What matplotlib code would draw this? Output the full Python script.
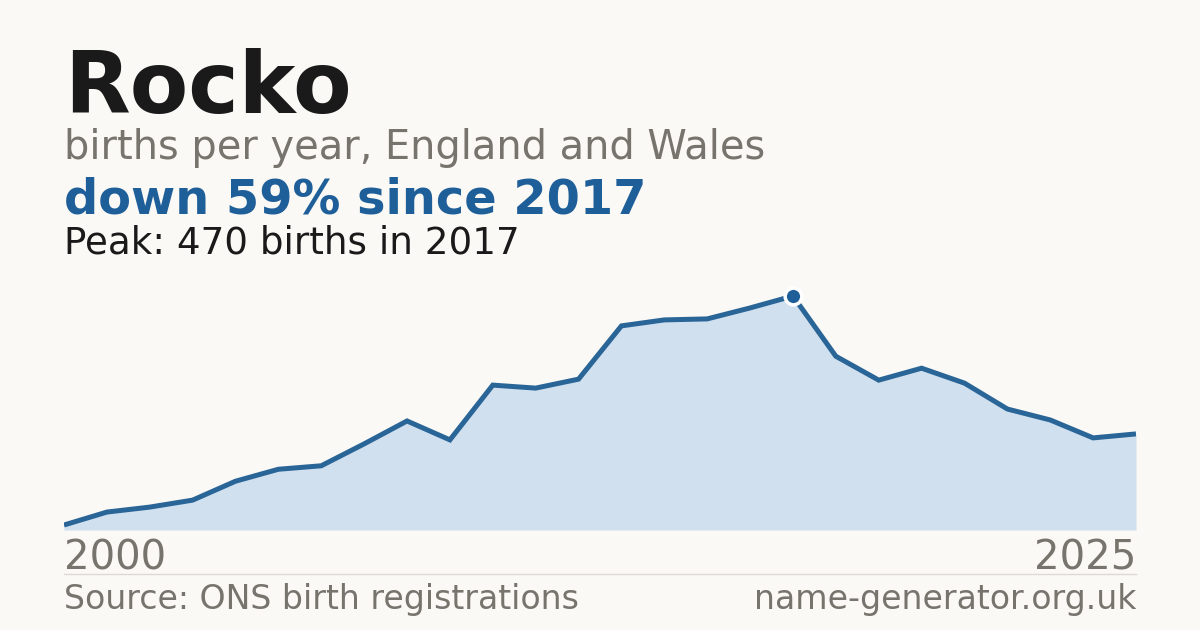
import matplotlib
matplotlib.use("Agg")
import matplotlib.pyplot as plt

years = list(range(2000, 2026))
births = [10, 36, 46, 60, 98, 122, 129, 173, 219, 181, 291, 285, 303, 410,
          422, 424, 446, 470, 349, 301, 325, 295, 243, 221, 185, 193]
peak_year = 2017
peak_value = 470

BG = "#faf9f5"
BLUE = "#1f5f99"
LINE = "#2a6598"
FILL = "#d0e0ef"
GRAY = "#77736d"
DARK = "#1a1a1a"

W, H = 1200, 630
fig = plt.figure(figsize=(W / 100, H / 100), dpi=100, facecolor=BG)

def fy(px):
    return 1 - px / H

# axes: x 64..1136, bottom at 530, scale ~0.498 px per birth
top_val = 500
scale = 234 / 470
ax_top_px = 530 - top_val * scale
ax = fig.add_axes([64 / W, fy(530), 1072 / W, (530 - ax_top_px) / H])
ax.set_facecolor("none")
ax.fill_between(years, births, 0, color=FILL, linewidth=0)
ax.plot(years, births, color=LINE, linewidth=3.6, solid_capstyle="butt", solid_joinstyle="miter")
ax.plot([peak_year], [peak_value], marker="o", markersize=12, markerfacecolor=BLUE,
        markeredgecolor="white", markeredgewidth=2.5, clip_on=False, zorder=5)
ax.set_xlim(years[0], years[-1])
ax.set_ylim(0, top_val)
ax.axis("off")

fig.text(64 / W, fy(113), "Rocko", fontsize=61.4, fontweight="bold", color=DARK, va="baseline", ha="left")
fig.text(64 / W, fy(159), "births per year, England and Wales", fontsize=28.7, color=GRAY, va="baseline", ha="left")
fig.text(64 / W, fy(214), "down 59% since 2017", fontsize=34.5, fontweight="bold", color=BLUE, va="baseline", ha="left")
fig.text(64 / W, fy(253), "Peak: 470 births in 2017", fontsize=26.8, color=DARK, va="baseline", ha="left")

fig.text(64 / W, fy(569), str(years[0]), fontsize=28.9, color=GRAY, va="baseline", ha="left")
fig.text(1136 / W, fy(569), str(years[-1]), fontsize=28.9, color=GRAY, va="baseline", ha="right")

fig.add_artist(plt.Line2D([64 / W, 1136 / W], [fy(574), fy(574)], color="#dddad3", linewidth=1))

fig.text(64 / W, fy(609), "Source: ONS birth registrations", fontsize=23.9, color=GRAY, va="baseline", ha="left")
fig.text(1136 / W, fy(609), "name-generator.org.uk", fontsize=23.9, color=GRAY, va="baseline", ha="right")

fig.savefig("out.png", dpi=100, facecolor=BG)
